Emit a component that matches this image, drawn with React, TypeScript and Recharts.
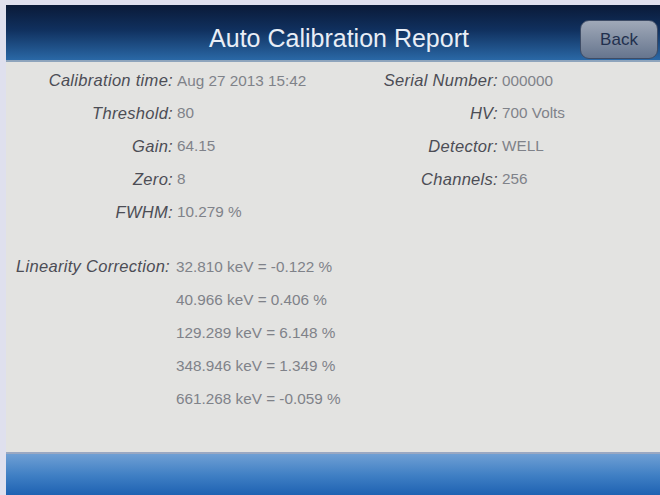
import React from 'react';
import { ScatterChart, Scatter, XAxis, YAxis } from 'recharts';

// report fields
const leftLabels = ['Calibration time', 'Threshold', 'Gain', 'Zero', 'FWHM'];
const leftValues = ['Aug 27 2013 15:42', '80', '64.15', '8', '10.279 %'];
const rightLabels = ['Serial Number', 'HV', 'Detector', 'Channels'];
const rightValues = ['000000', '700 Volts', 'WELL', '256'];

// linearity correction table
const linearityEnergies = [32.81, 40.966, 129.289, 348.946, 661.268];
const linearityCorrections = [-0.122, 0.406, 6.148, 1.349, -0.059];

const GROUP_GAP = 0.64;

type Row = { x: number; y: number; label: string; value: string };

const fieldRows: Row[] = [
  ...leftLabels.map((label, i) => ({ x: 0, y: i, label, value: leftValues[i] })),
  ...rightLabels.map((label, i) => ({ x: 1, y: i, label, value: rightValues[i] })),
];

const linearityRows: Row[] = linearityEnergies.map((e, i) => ({
  x: 0,
  y: leftLabels.length + GROUP_GAP + i,
  label: i === 0 ? 'Linearity Correction' : '',
  value: `${e.toFixed(3)} keV = ${linearityCorrections[i].toFixed(3)} %`,
}));

const FONT = '"Liberation Sans", Arial, sans-serif';

const makeCell = (labelGap: number, valueGap: number) => (props: any) => {
  const { cx, cy, payload } = props;
  return (
    <g>
      {payload.label ? (
        <text
          x={cx - labelGap}
          y={cy}
          textAnchor="end"
          dominantBaseline="central"
          fontFamily={FONT}
          fontStyle="italic"
          fontSize={16.5}
          letterSpacing={0.3}
          fill="#4c4d55"
        >
          {payload.label + ':'}
        </text>
      ) : null}
      <text
        x={cx + valueGap}
        y={cy}
        textAnchor="start"
        dominantBaseline="central"
        fontFamily={FONT}
        fontSize={15.3}
        fill="#7f8289"
      >
        {payload.value}
      </text>
    </g>
  );
};

const App: React.FC = () => {
  return (
    <div style={{ position: 'absolute', left: 0, top: 0, width: 660, height: 495, background: '#dfe0ee', overflow: 'hidden' }}>
      <div style={{ position: 'absolute', left: 6, top: 5, width: 654, height: 490, background: '#e3e3e1' }}>
        {/* header */}
        <div
          style={{
            position: 'absolute', left: 0, top: 0, width: 654, height: 55,
            background: 'linear-gradient(#0a1a38 0%, #10305e 45%, #2a68a6 100%)',
            borderBottom: '2px solid #8ea4bc',
          }}
        >
          <div
            style={{
              position: 'absolute', left: 0, top: 17, width: 666, textAlign: 'center',
              fontFamily: FONT, fontSize: 25, color: '#e9eef6', lineHeight: '32px',
            }}
          >
            Auto Calibration Report
          </div>
          <div
            style={{
              position: 'absolute', left: 574, top: 15, width: 76, height: 37,
              borderRadius: 9, border: '1px solid #3e4c66',
              background: 'linear-gradient(#a0a9b8, #66758e)',
              fontFamily: FONT, fontSize: 17, color: '#22304e',
              textAlign: 'center', lineHeight: '37px',
            }}
          >
            Back
          </div>
        </div>
        {/* report body */}
        <div style={{ position: 'absolute', left: 0, top: 57, width: 654, height: 390 }}>
          <ScatterChart width={654} height={390} margin={{ top: 18, right: 160, bottom: 54, left: 169 }}>
            <XAxis type="number" dataKey="x" domain={[0, 1]} hide />
            <YAxis type="number" dataKey="y" domain={[0, leftLabels.length + GROUP_GAP + 4]} reversed hide />
            <Scatter data={fieldRows} shape={makeCell(2, 2)} isAnimationActive={false} />
            <Scatter data={linearityRows} shape={makeCell(5, 1)} isAnimationActive={false} />
          </ScatterChart>
        </div>
        {/* footer */}
        <div
          style={{
            position: 'absolute', left: 0, top: 447, width: 654, height: 43,
            borderTop: '2px solid #9aa8c2',
            background: 'linear-gradient(#6f9fd4 0%, #3f7fc4 50%, #1b5fb0 100%)',
          }}
        />
      </div>
    </div>
  );
};

export default App;
